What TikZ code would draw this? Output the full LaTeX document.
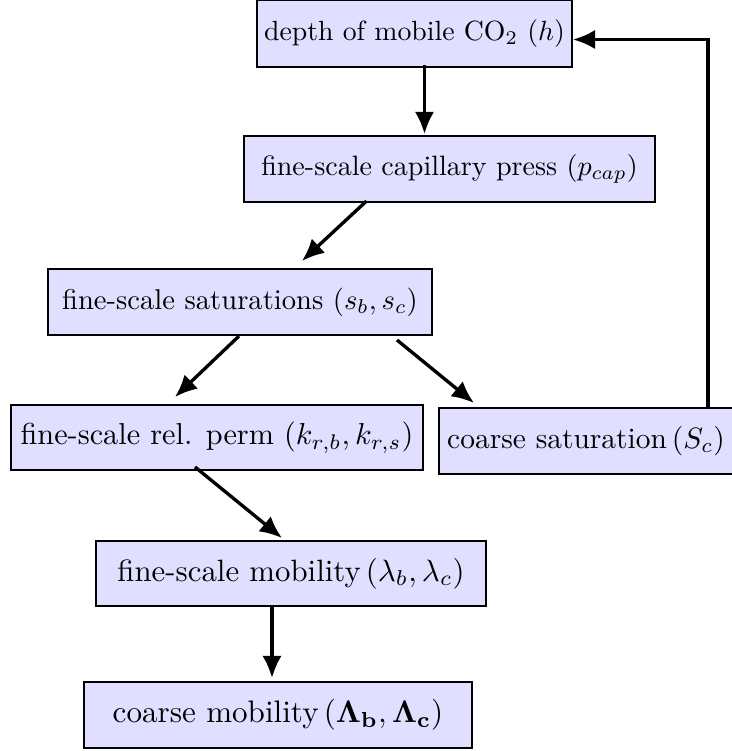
\documentclass[tikz,border=0pt]{standalone}
\usepackage{graphicx}
\usetikzlibrary{arrows.meta,calc}

\definecolor{boxfill}{RGB}{225,223,255}
\newcommand\boxtext[2]{\scalebox{#1}{#2}}

\tikzset{every picture/.style={line width=0.7pt}}
\tikzset{
  procbox/.style={draw, fill=boxfill, rectangle, inner sep=2pt, align=center},
  flow/.style={line width=1.2pt, -{Latex[length=8pt,width=7pt]}}
}

\begin{document}
\begin{tikzpicture}[x=0.36pt,y=0.36pt,yscale=-1,xscale=1]
\useasboundingbox (0,0) rectangle (731,751);

%Process boxes
\node [procbox, minimum width=113.4pt, minimum height=24.1pt] (dep) at (414.5,33.5) {depth of mobile CO$_2$ ($h$)};
\node [procbox, minimum width=148pt, minimum height=23.8pt] (cap) at (449.5,169) {\boxtext{1.01}{fine-scale capillary press ($p_{cap}$)}};
\node [procbox, minimum width=138.2pt, minimum height=23.8pt] (sat) at (240,302) {\boxtext{1.03}{fine-scale saturations ($s_b, s_c$)}};
\node [procbox, minimum width=148.3pt, minimum height=23.4pt] (rel) at (217,437.5) {\boxtext{1.09}{fine-scale rel. perm ($k_{r,b}, k_{r,s}$)}};
\node [procbox, minimum width=105.8pt, minimum height=23.8pt] (csat) at (586,441) {\boxtext{1.06}{coarse saturation$\,(S_c)$}};
\node [procbox, minimum width=140.4pt, minimum height=23.4pt] (mob) at (291,573.5) {\boxtext{1.11}{fine-scale mobility$\,(\lambda_b, \lambda_c)$}};
\node [procbox, minimum width=139.7pt, minimum height=23.8pt] (cmob) at (278,715) {\boxtext{1.12}{coarse mobility$\,(\mathbf{\Lambda_b}, \mathbf{\Lambda_c})$}};

%Connectors
\draw [flow] ($(dep.south)+(10,-3)$) -- ($(cap.north)+(-25,-1)$);
\draw [flow] ($(cap.south)+(-83,-2)$) -- ($(sat.north)+(62,-7)$);
\draw [flow] ($(sat.south)+(-1,0)$) -- ($(rel.north)+(-42,-7)$);
\draw [flow] ($(sat.south)+(157,4)$) -- ($(csat.north)+(-112,-4)$);
\draw [flow] ($(rel.south)+(-22,-4)$) -- ($(mob.north)+(-9,-2)$);
\draw [flow] ($(mob.south)+(-19,0)$) -- ($(cmob.north)+(-6,-3)$);
\draw [flow] ($(csat.north)+(122,0)$) |- ($(dep.east)+(0,6)$);

\end{tikzpicture}
\end{document}
